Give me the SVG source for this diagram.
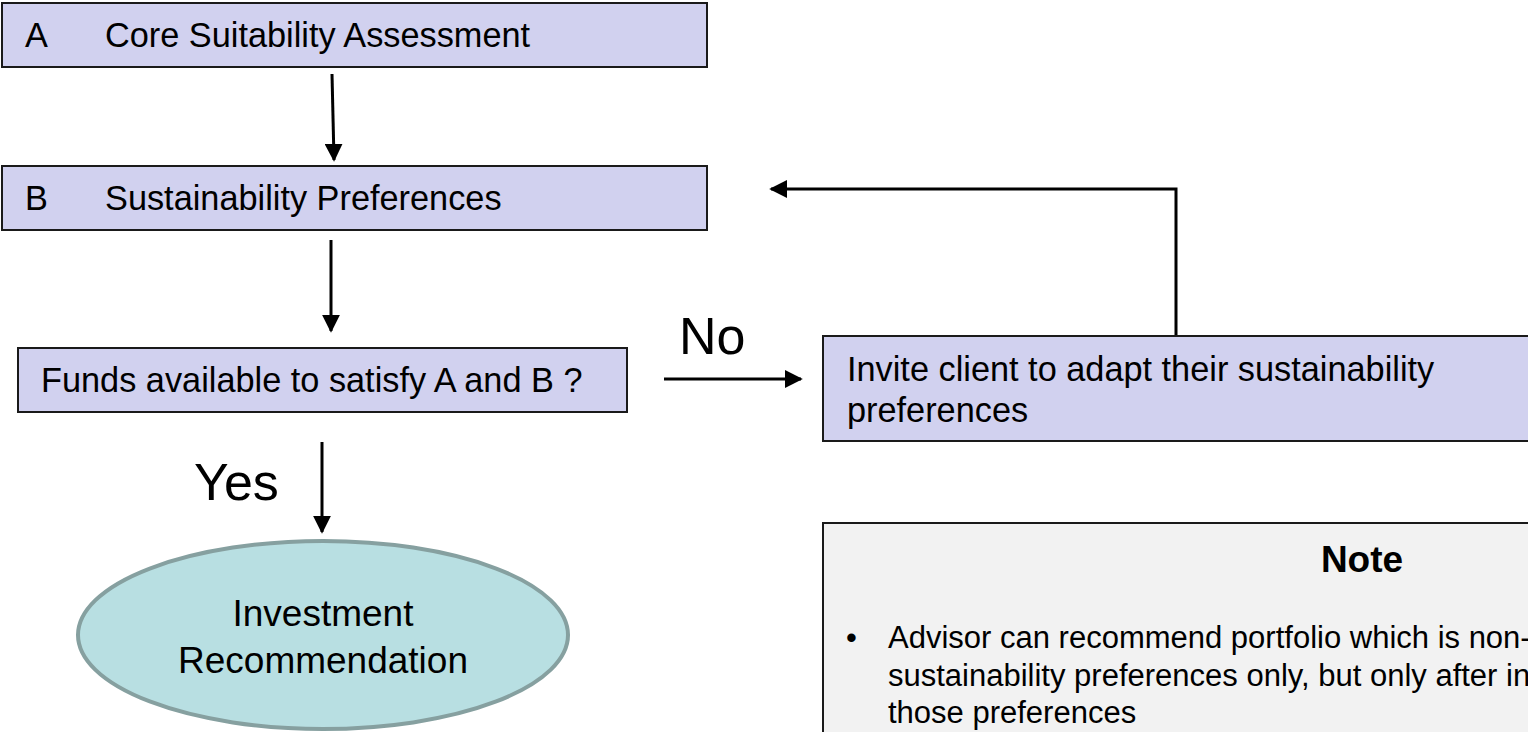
<svg xmlns="http://www.w3.org/2000/svg" width="1528" height="732" viewBox="0 0 1528 732">
<style>
.box{fill:#d1d1ef;stroke:#1a1a1a;stroke-width:2}
.t{font-family:"Liberation Sans",Arial,sans-serif;font-size:34.3px;fill:#000}
.n{font-size:31px}
.lbl{font-size:52px}
.c{stroke:#000;stroke-width:3;fill:none}
</style>
<defs>
<marker id="ah" viewBox="0 0 10 10" refX="9" refY="5" markerWidth="6" markerHeight="6" markerUnits="strokeWidth" orient="auto">
<path d="M0,0 L10,5 L0,10 z" fill="#000"/>
</marker>
</defs>
<rect width="1528" height="732" fill="#fff"/>
<g id="connectors">
<path class="c" d="M332,74 L334,160" marker-end="url(#ah)"/>
<path class="c" d="M331,240 L331,331" marker-end="url(#ah)"/>
<path class="c" d="M322,442 L322,532" marker-end="url(#ah)"/>
<path class="c" d="M664,379 L801,379" marker-end="url(#ah)"/>
<path class="c" d="M1176,336 L1176,189 L771,189" marker-end="url(#ah)"/>
<text class="t lbl" x="679" y="354">No</text>
<text class="t lbl" x="194" y="500">Yes</text>
</g>
<g id="nodeA">
<rect class="box" x="2" y="3" width="705" height="64"/>
<text class="t" x="25" y="47">A</text>
<text class="t" x="105" y="47">Core Suitability Assessment</text>
</g>
<g id="nodeB">
<rect class="box" x="2" y="166" width="705" height="64"/>
<text class="t" x="25" y="210">B</text>
<text class="t" x="105" y="210">Sustainability Preferences</text>
</g>
<g id="nodeFunds">
<rect class="box" x="18" y="348" width="609" height="64"/>
<text class="t" x="41" y="392">Funds available to satisfy A and B ?</text>
</g>
<g id="nodeInvite">
<rect class="box" x="823" y="336" width="710" height="105"/>
<text class="t" x="847" y="381">Invite client to adapt their sustainability</text>
<text class="t" x="847" y="422">preferences</text>
</g>
<g id="nodeRec">
<ellipse cx="323" cy="635" rx="245" ry="94" fill="#b8dfe2" stroke="#86a0a0" stroke-width="4"/>
<text class="t" x="323" y="626" text-anchor="middle" style="font-size:37px">Investment</text>
<text class="t" x="323" y="673" text-anchor="middle" style="font-size:37px">Recommendation</text>
</g>
<g id="nodeNote">
<rect x="823" y="523" width="720" height="230" fill="#f2f2f2" stroke="#1a1a1a" stroke-width="2"/>
<text class="t" x="1362" y="572" text-anchor="middle" font-weight="bold" style="font-size:37px">Note</text>
<text class="t n" x="846" y="648">•</text>
<text class="t n" x="888" y="648">Advisor can recommend portfolio which is non-</text>
<text class="t n" x="888" y="686">sustainability preferences only, but only after in</text>
<text class="t n" x="888" y="723">those preferences</text>
</g>
</svg>
